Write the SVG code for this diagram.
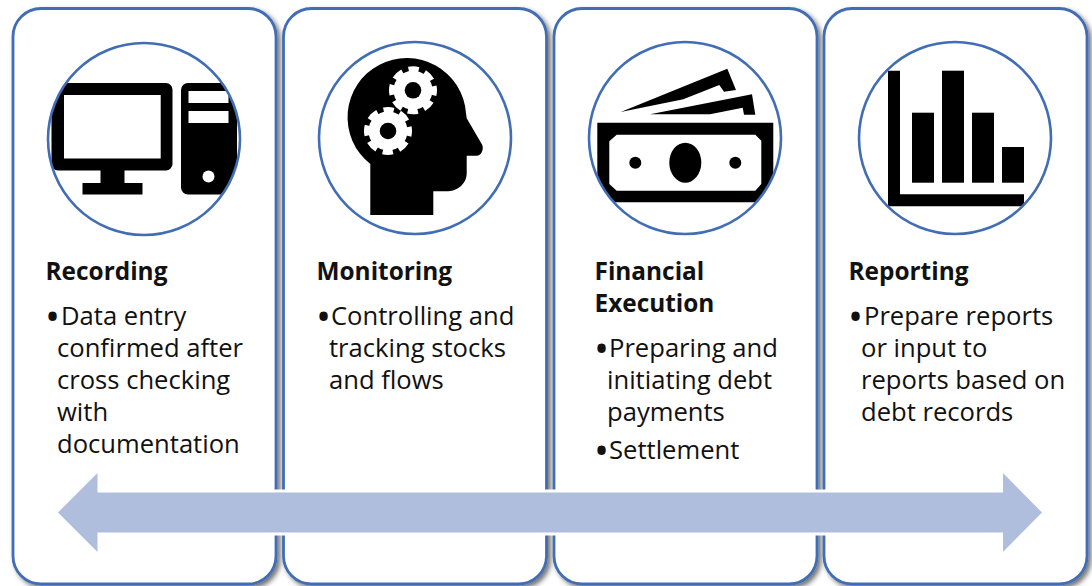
<svg xmlns="http://www.w3.org/2000/svg" width="1092" height="586" viewBox="0 0 1092 586">
<style>
.card{fill:#fff;stroke:#416db5;stroke-width:2.8;filter:url(#sh)}
.ring{fill:none;stroke:#416db5;stroke-width:2.6}
text{font-family:"Open Sans","Noto Sans","Liberation Sans",sans-serif;font-size:25.6px;fill:#111}
.h{font-weight:700;font-size:24.400px}
.bu{font-size:40px}
</style>
<defs>
<filter id="sh" x="-5%" y="-5%" width="112%" height="112%"><feDropShadow dx="3" dy="3" stdDeviation="2.5" flood-color="#000" flood-opacity="0.55"/></filter>
<clipPath id="c1"><circle cx="144" cy="139" r="96"/></clipPath>
<clipPath id="c3"><circle cx="685" cy="138" r="96"/></clipPath>
<clipPath id="c4"><circle cx="955" cy="138" r="96"/></clipPath>
<g id="gear"><circle r="19.500" fill="#fff"/><circle r="20.500" fill="none" stroke="#fff" stroke-width="7" stroke-dasharray="10 6.100" stroke-dashoffset="5"/><circle r="8.300" fill="#000"/></g>
</defs>
<g id="recording">
<rect class="card" x="13" y="8.500" width="263" height="575.500" rx="28"/>
<g clip-path="url(#c1)">
<path fill-rule="evenodd" d="M58 83H166a6.500 6.500 0 0 1 6.500 6.500V164a6.500 6.500 0 0 1-6.500 6.500H124.500V183H142.500V194.500H82.500V183H100.500V170.500H58a6.500 6.500 0 0 1-6.500-6.500V89.500A6.500 6.500 0 0 1 58 83ZM64 95V158.500H160.700V95Z"/>
<path fill-rule="evenodd" d="M188 83H237V194.500H188a7 7 0 0 1-7-7V90a7 7 0 0 1 7-7ZM188.500 91V103H228.500V91ZM188.500 111V123H228.500V111Z"/>
<circle cx="208.500" cy="176.500" r="6" fill="#fff"/>
</g>
<circle class="ring" cx="144" cy="139" r="96"/>
<text class="h" x="45.500" y="280">Recording</text>
<text x="45" y="325"><tspan class="bu" y="331">•</tspan><tspan x="61" y="325">Data entry</tspan></text>
<text x="57" y="357">confirmed after</text>
<text x="57" y="389">cross checking</text>
<text x="57" y="421">with</text>
<text x="57" y="453">documentation</text>
</g>
<g id="monitoring">
<rect class="card" x="283.500" y="8.500" width="263" height="575.500" rx="28"/>
<path d="M370.300 215V164A59.300 59.300 0 1 1 466 113.300L466.700 118.300L482.300 145C484 150 481 155.700 476.700 155.700H466.700V173C466.700 185 456 191.300 446.700 191.300H433.300V215Z"/>
<use href="#gear" x="413" y="90.300"/>
<use href="#gear" x="388" y="131"/>
<circle class="ring" cx="415" cy="138" r="96"/>
<text class="h" x="316.500" y="280">Monitoring</text>
<text x="316" y="325"><tspan class="bu" y="331">•</tspan><tspan x="331" y="325">Controlling and</tspan></text>
<text x="329" y="357">tracking stocks</text>
<text x="329" y="389">and flows</text>
</g>
<g id="execution">
<rect class="card" x="554" y="8.500" width="263" height="575.500" rx="28"/>
<path d="M620.700 112L727.300 68.700L736 90L724 91.700L719.300 85L683.300 99.300Z"/>
<path d="M650 114.300L752 94.300L755.300 114.700L744 114.700L742.700 107.700L710 114.300Z"/>
<g clip-path="url(#c3)">
<path fill-rule="evenodd" d="M597.300 122.700H773.300V202.300H597.300ZM616.700 134.700L609.300 141.300V184L616.700 190.700H755.300L761.300 184V140.700L755.300 134.700Z"/>
</g>
<ellipse cx="685.300" cy="162.700" rx="16" ry="20"/>
<circle cx="635.300" cy="162.700" r="6"/>
<circle cx="735.300" cy="162.700" r="6"/>
<circle class="ring" cx="685" cy="138" r="96"/>
<text class="h" x="594.500" y="280">Financial</text>
<text class="h" x="594.500" y="312">Execution</text>
<text x="594" y="357"><tspan class="bu" y="363">•</tspan><tspan x="609" y="357">Preparing and</tspan></text>
<text x="607" y="389">initiating debt</text>
<text x="607" y="421">payments</text>
<text x="594" y="459"><tspan class="bu" y="465">•</tspan><tspan x="609" y="459">Settlement</tspan></text>
</g>
<g id="reporting">
<rect class="card" x="824" y="8.500" width="263" height="575.500" rx="28"/>
<g clip-path="url(#c4)">
<path d="M888 70.700H900V194.300H1024V206.300H888Z"/>
<rect x="912" y="112.700" width="22" height="70"/>
<rect x="942" y="70.700" width="22" height="112"/>
<rect x="972" y="112.700" width="22" height="70"/>
<rect x="1002" y="147" width="22" height="35.700"/>
</g>
<circle class="ring" cx="955" cy="138" r="96"/>
<text class="h" x="848.500" y="280">Reporting</text>
<text x="848" y="325"><tspan class="bu" y="331">•</tspan><tspan x="864" y="325">Prepare reports</tspan></text>
<text x="861" y="357">or input to</text>
<text x="861" y="389">reports based on</text>
<text x="861" y="421">debt records</text>
</g>
<g id="connectors">
<path d="M58 512.500L97.500 473V492.500H1003V473L1042 512.500L1003 552V532.500H97.500V552Z" fill="#b0bede" stroke="#fff" stroke-width="6" paint-order="stroke" stroke-linejoin="miter"/>
</g>
</svg>
